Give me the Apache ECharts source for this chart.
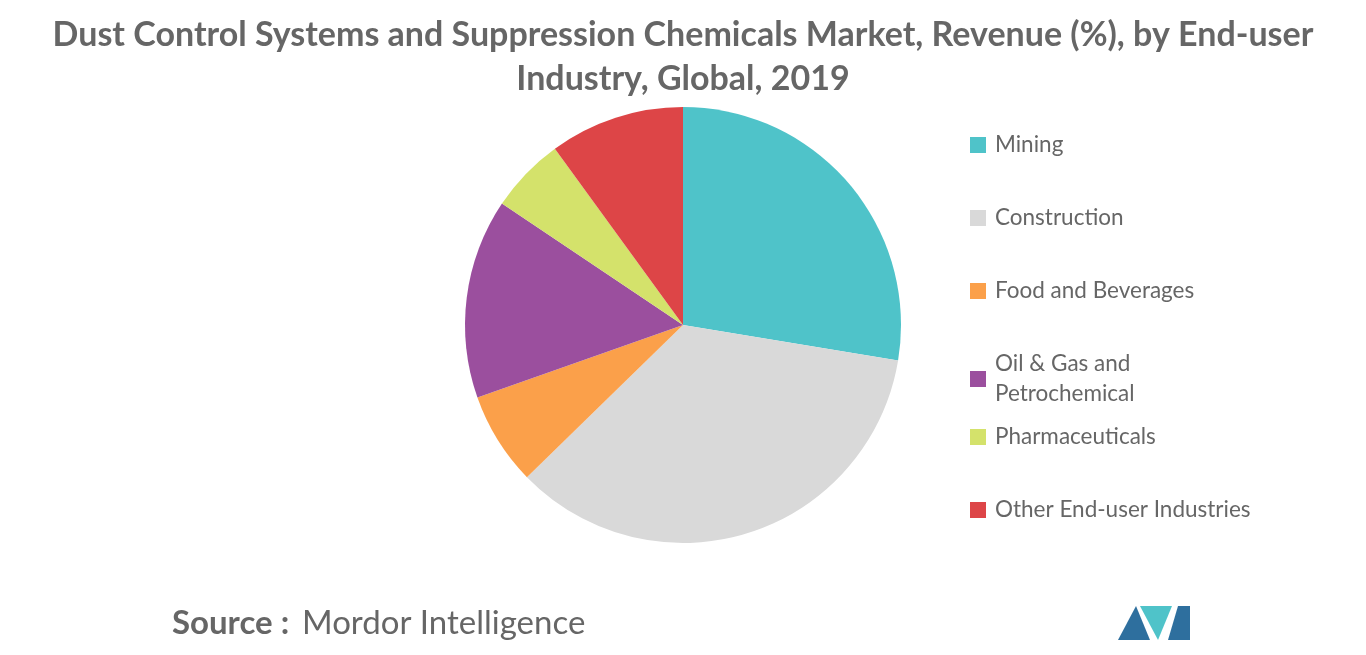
<!DOCTYPE html>
<html><head><meta charset="utf-8">
<script src="https://cdn.jsdelivr.net/npm/echarts@6/dist/echarts.min.js"></script>
<style>html,body{margin:0;padding:0;background:#fff}#c{width:1366px;height:655px}</style>
</head><body><div id="c"></div>
<script>
const categories = ["Mining","Construction","Food and Beverages","Oil & Gas and\nPetrochemical","Pharmaceuticals","Other End-user Industries"];
const values = [27.6, 35.1, 6.9, 14.8, 5.6, 10.0];
const colors = ["#4FC3C9","#D9D9D9","#FBA04A","#9B4F9E","#D4E26B","#DD4547"];
const legendTops = [125, 198, 271, 344, 417, 490];
const chart = echarts.init(document.getElementById('c'));
chart.setOption({
  animation:false,
  title:{text:"Dust Control Systems and Suppression Chemicals Market, Revenue (%), by End-user\nIndustry, Global, 2019",
    left:'center',top:8,textStyle:{fontFamily:'Lato',fontWeight:'bold',fontSize:34,color:'#666',lineHeight:44}},
  legend:categories.map((n,i)=>({data:[n],orient:'vertical',left:965,top:legendTops[i],itemWidth:16,itemHeight:16,itemGap:12,icon:'rect',
    textStyle:{fontFamily:'Lato',fontSize:22.5,color:'#666',lineHeight:30,padding:[0,0,0,4]}})),
  color:colors,
  series:[{type:'pie',center:[683,325],radius:218,startAngle:90,clockwise:true,label:{show:false},
    data:categories.map((n,i)=>({name:n,value:values[i]}))}],
  graphic:[{type:'text',left:172,top:607,style:{text:'Source :',font:'bold 33px Lato',fill:'#666'}},
    {type:'text',left:302,top:607,style:{text:'Mordor Intelligence',font:'33px Lato',fill:'#666'}},
    {type:'polygon',shape:{points:[[1118,640],[1136,606],[1150,640]]},style:{fill:'#2E6F9E'}},
    {type:'polygon',shape:{points:[[1140,606],[1158,640],[1172,606]]},style:{fill:'#4FC3C9'}},
    {type:'polygon',shape:{points:[[1168,640],[1178,606],[1190,606],[1190,640]]},style:{fill:'#2E6F9E'}}]
});
</script></body></html>
